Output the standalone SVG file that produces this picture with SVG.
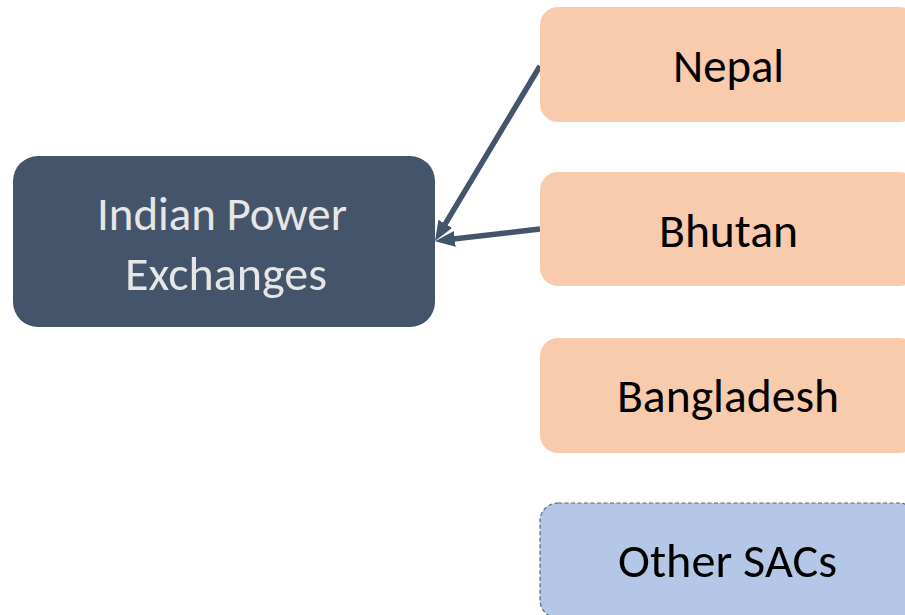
<svg xmlns="http://www.w3.org/2000/svg" width="905" height="615" viewBox="0 0 905 615">
  <style>
    .label { font-family: Carlito, Calibri, "Liberation Sans", sans-serif; font-size: 48px; text-anchor: middle; }
    .dark-text { fill: #e7e6e6; }
    .ink { fill: #000000; }
    .hub { fill: #44546a; }
    .peer { fill: #f8cbad; }
    .other { fill: #b4c7e7; stroke: #5b6675; stroke-width: 1.2; stroke-dasharray: 4 2.5; }
    .link { stroke: #44546a; stroke-width: 5.5; fill: none; marker-end: url(#head); }
  </style>
  <defs>
    <marker id="head" markerUnits="userSpaceOnUse" markerWidth="22" markerHeight="18" refX="8" refY="8" orient="auto">
      <path d="M0,0 L20,8 L0,16 Z" fill="#44546a"/>
    </marker>
  </defs>

  <rect width="905" height="615" fill="#ffffff"/>

  <g id="connectors">
    <!-- each line stops 12px short of its tip; the head covers the rest -->
    <line class="link" x1="540" y1="66" x2="441.2" y2="230.7"/>
    <line class="link" x1="540" y1="229" x2="446.9" y2="239.8"/>
  </g>

  <g id="indian-power-exchanges">
    <rect class="hub" x="13" y="156" width="422" height="171" rx="25"/>
    <text class="label dark-text" x="222" y="230" textLength="250" lengthAdjust="spacingAndGlyphs">Indian Power</text>
    <text class="label dark-text" x="226" y="290" textLength="202" lengthAdjust="spacingAndGlyphs">Exchanges</text>
  </g>

  <g id="nepal">
    <rect class="peer" x="540" y="7" width="377" height="115" rx="18"/>
    <text class="label ink" x="728.5" y="82" textLength="111" lengthAdjust="spacingAndGlyphs">Nepal</text>
  </g>

  <g id="bhutan">
    <rect class="peer" x="540" y="172" width="377" height="114" rx="18"/>
    <text class="label ink" x="728.5" y="247" textLength="139" lengthAdjust="spacingAndGlyphs">Bhutan</text>
  </g>

  <g id="bangladesh">
    <rect class="peer" x="540" y="338" width="377" height="115" rx="18"/>
    <text class="label ink" x="728" y="412" textLength="222" lengthAdjust="spacingAndGlyphs">Bangladesh</text>
  </g>

  <g id="other-sacs">
    <rect class="other" x="540" y="503" width="377" height="115" rx="18"/>
    <text class="label ink" x="727.5" y="577" textLength="219" lengthAdjust="spacingAndGlyphs">Other SACs</text>
  </g>
</svg>
